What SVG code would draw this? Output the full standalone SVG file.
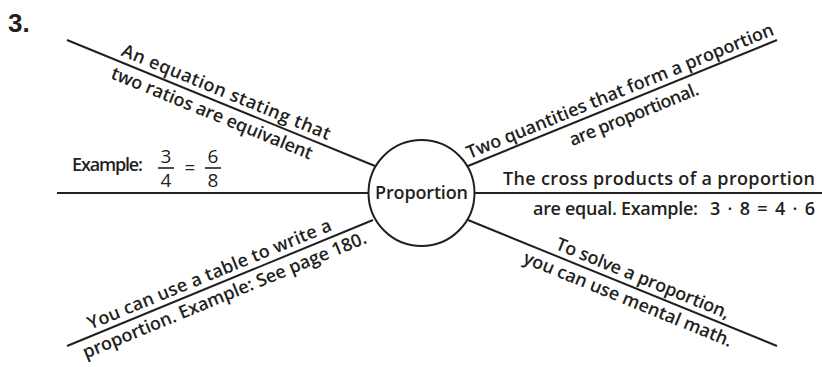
<svg xmlns="http://www.w3.org/2000/svg" width="822" height="367" viewBox="0 0 822 367">
<style>
.ln{stroke:#231f20;stroke-width:2;fill:none}
.t{font-family:"Open Sans","Noto Sans",sans-serif;font-weight:600;font-size:18px;fill:#231f20}
.m{text-anchor:middle}
.num{font-family:"Open Sans","Noto Sans",sans-serif;font-weight:400;font-size:19px;fill:#231f20;text-anchor:middle}
.lbl{font-family:"Liberation Sans",Arial,sans-serif;font-weight:700;font-size:26px;fill:#231f20}
</style>
<rect width="822" height="367" fill="#ffffff"/>
<text class="lbl" x="8" y="32">3.</text>
<g id="connectors">
<line class="ln" x1="57" y1="193" x2="368" y2="193"/>
<line class="ln" x1="475" y1="193" x2="822" y2="193"/>
<line class="ln" x1="67" y1="40" x2="375" y2="166"/>
<line class="ln" x1="468" y1="166" x2="777" y2="40"/>
<line class="ln" x1="67" y1="346" x2="373" y2="220"/>
<line class="ln" x1="468" y1="220" x2="777" y2="346"/>
</g>
<g id="center">
<circle class="ln" cx="421.5" cy="193" r="53"/>
<text class="t m" x="421.5" y="199" textLength="93">Proportion</text>
</g>
<g id="top-left" transform="translate(67,40) rotate(22.25)">
<text class="t m" x="167" y="-6" textLength="224">An equation stating that</text>
<text class="t m" x="162" y="19" textLength="216">two ratios are equivalent</text>
</g>
<g id="left-example">
<text class="t" x="72" y="171" textLength="71">Example:</text>
<text class="num" x="166" y="163">3</text>
<line class="ln" x1="158" y1="168" x2="174" y2="168" style="stroke-width:1.6"/>
<text class="num" x="166" y="187">4</text>
<text class="num" x="190" y="174">=</text>
<text class="num" x="213" y="163">6</text>
<line class="ln" x1="205" y1="168" x2="221" y2="168" style="stroke-width:1.6"/>
<text class="num" x="213" y="187">8</text>
</g>
<g id="bottom-left" transform="translate(67,346) rotate(-22.38)">
<text class="t m" x="159" y="-6" textLength="262">You can use a table to write a</text>
<text class="t m" x="165" y="19" textLength="305">proportion. Example: See page 180.</text>
</g>
<g id="top-right" transform="translate(468,166) rotate(-22.18)">
<text class="t m" x="169" y="-6" textLength="330">Two quantities that form a proportion</text>
<text class="t m" x="173" y="21" textLength="138">are proportional.</text>
</g>
<g id="right">
<text class="t" x="503" y="185" textLength="312">The cross products of a proportion</text>
<text class="t" x="533" y="215" textLength="165">are equal. Example:</text>
<text class="t" x="710" y="215" textLength="105">3 · 8 = 4 · 6</text>
</g>
<g id="bottom-right" transform="translate(468,220) rotate(22.18)">
<text class="t m" x="184" y="-6" textLength="186">To solve a proportion,</text>
<text class="t m" x="178" y="19" textLength="224">you can use mental math.</text>
</g>
</svg>
